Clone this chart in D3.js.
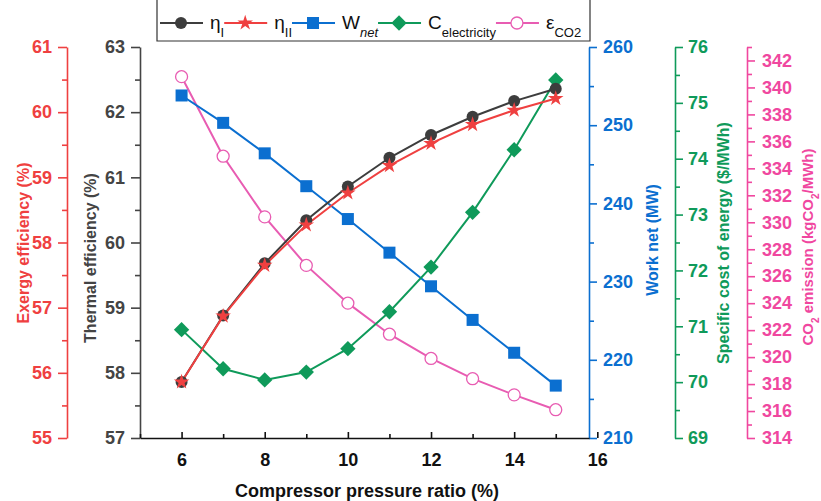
<!DOCTYPE html>
<html><head><meta charset="utf-8">
<script src="https://cdn.jsdelivr.net/npm/d3@7"></script>
<style>body{margin:0;background:#fff} text{font-family:"Liberation Sans",Arial,sans-serif}</style>
</head><body><svg id="c" width="821" height="501"></svg>
<script>
const pressureRatio=[6,7,8,9,10,11,12,13,14,15];
const thermalEff=[57.86,58.88,59.68,60.34,60.86,61.30,61.65,61.93,62.17,62.36];
const exergyEff=[55.86,56.87,57.65,58.27,58.76,59.18,59.52,59.81,60.03,60.21];
const workNet=[253.8,250.3,246.4,242.2,238.0,233.7,229.4,225.1,220.9,216.7];
const costElec=[70.94,70.24,70.04,70.18,70.60,71.26,72.06,73.04,74.16,75.41];
const co2Emission=[340.8,334.9,330.4,326.8,324.0,321.7,319.9,318.4,317.2,316.1];
const xTicks=[6,8,10,12,14,16];
const xMinor=[5,7,9,11,13,15];
const thermalTicks=[57,58,59,60,61,62,63];
const exergyTicks=[55,56,57,58,59,60,61];
const workTicks=[210,220,230,240,250,260];
const costTicks=[69,70,71,72,73,74,75,76];
const co2Ticks=[314,316,318,320,322,324,326,328,330,332,334,336,338,340,342];
const co2Minor=[315,317,319,321,323,325,327,329,331,333,335,337,339,341,343];

const C={black:"#3d3d3d",red:"#ef4040",blue:"#0b6fd0",green:"#0f9a5a",pink:"#f0479f",pinkLine:"#e85cb2"};
const svg=d3.select("#c");
const yTop=47,yBot=438,xl=140,xr=589;
const x=d3.scaleLinear([5,15.8],[xl,xr]);
const yT=d3.scaleLinear([57,63],[yBot,yTop]);
const yE=d3.scaleLinear([55,61],[yBot,yTop]);
const yW=d3.scaleLinear([210,260],[yBot,yTop]);
const yC=d3.scaleLinear([69,76],[yBot,yTop]);
const yP=d3.scaleLinear([314,343],[yBot,yTop]);

function mids(t,step){const r=[];for(let i=0;i<t.length-1;i++)r.push(t[i]+step);return r;}

function axis(gen,scale,major,minor,pos,color,pad,majLen,minLen){
  const g=svg.append("g").attr("transform",pos);
  g.call(gen(scale).tickValues(major).tickSize(majLen).tickSizeOuter(0).tickPadding(pad).tickFormat(d3.format("d")));
  g.append("g").call(gen(scale).tickValues(minor).tickSize(minLen).tickSizeOuter(0).tickFormat(""))
   .select(".domain").remove();
  g.selectAll("line,path").attr("stroke",color).attr("stroke-width",1.6);
  g.selectAll("text").attr("fill",color).style("font-size","18px").style("font-weight","bold").style("font-family","'Liberation Sans',Arial,sans-serif");
  return g;
}
axis(d3.axisLeft,yE,exergyTicks,mids(exergyTicks,0.5),`translate(67,0)`,C.red,6,9,5);
axis(d3.axisLeft,yT,thermalTicks,mids(thermalTicks,0.5),`translate(${xl},0)`,"#444",6,9,5);
axis(d3.axisRight,yW,workTicks,mids(workTicks,5),`translate(${xr},0)`,C.blue,6,8,5);
axis(d3.axisRight,yC,costTicks,mids(costTicks,0.5),`translate(675,0)`,C.green,5,8,5);
axis(d3.axisRight,yP,co2Ticks,co2Minor,`translate(747,0)`,C.pink,7,8,5);
const gx=svg.append("g").attr("transform",`translate(0,${yBot})`);
gx.call(d3.axisBottom(x).tickValues(xTicks).tickSize(-6).tickSizeOuter(0).tickPadding(15).tickFormat(d3.format("d")));
gx.append("g").call(d3.axisBottom(x).tickValues(xMinor).tickSize(-4).tickSizeOuter(0).tickFormat("")).select(".domain").remove();
gx.selectAll("line,path").attr("stroke","#111").attr("stroke-width",1.6);
gx.selectAll("text").attr("fill","#111").style("font-size","18px").style("font-weight","bold");

function vtitle(cx,cy,color,size,parts){
  const t=svg.append("text").attr("transform",`translate(${cx},${cy}) rotate(-90)`).attr("text-anchor","middle")
    .attr("fill",color).style("font-size",size+"px").style("font-weight","bold");
  parts.forEach(p=>{const s=t.append("tspan").text(p[0]);if(p[1])s.attr("baseline-shift","sub").style("font-size","10px");});
  return t;
}
vtitle(29,243,C.red,16,[["Exergy efficiency (%)"]]);
vtitle(96,258,"#444",16,[["Thermal efficiency (%)"]]);
vtitle(658,240,C.blue,16,[["Work net (MW)"]]);
vtitle(729,243,C.green,16,[["Specific cost of energy ($/MWh)"]]);
vtitle(813,247,C.pink,15,[["CO"],["2",1],[" emission (kgCO"],["2",1],["/MWh)"]]);
svg.append("text").attr("x",367).attr("y",497).attr("text-anchor","middle").attr("fill","#111")
  .style("font-size","18px").style("font-weight","bold").text("Compressor pressure ratio (%)");

const series=[
  {vals:co2Emission,y:yP,color:C.pinkLine,sym:"circleOpen"},
  {vals:workNet,y:yW,color:C.blue,sym:"square"},
  {vals:costElec,y:yC,color:C.green,sym:"diamond"},
  {vals:thermalEff,y:yT,color:C.black,sym:"circle"},
  {vals:exergyEff,y:yE,color:C.red,sym:"star"},
];
function drawMarker(g,sym,color){
  if(sym==="circle") g.append("circle").attr("r",6).attr("fill",color);
  else if(sym==="circleOpen") g.append("circle").attr("r",6).attr("fill","#fff").attr("stroke",color).attr("stroke-width",1.3);
  else if(sym==="square") g.append("rect").attr("x",-6).attr("y",-6).attr("width",12).attr("height",12).attr("fill",color);
  else if(sym==="diamond") g.append("path").attr("d",d3.symbol(d3.symbolDiamond2,150)()).attr("fill",color);
  else if(sym==="star") g.append("path").attr("d",d3.symbol(d3.symbolStar,75)()).attr("fill",color);
}
series.forEach(s=>{
  const line=d3.line().x((d,i)=>x(pressureRatio[i])).y(d=>s.y(d));
  svg.append("path").attr("d",line(s.vals)).attr("fill","none").attr("stroke",s.color).attr("stroke-width",2);
});
series.forEach(s=>{
  s.vals.forEach((v,i)=>{
    const g=svg.append("g").attr("transform",`translate(${x(pressureRatio[i])},${s.y(v)})`);
    drawMarker(g,s.sym,s.color);
  });
});

const legendItems=[
  {color:C.black,sym:"circle",label:[["η"],["I",1]]},
  {color:C.red,sym:"star",label:[["η"],["II",1]]},
  {color:C.blue,sym:"square",label:[["W"],["net",2]]},
  {color:C.green,sym:"diamond",label:[["C"],["electricity",1]]},
  {color:C.pinkLine,sym:"circleOpen",label:[["ε"],["CO2",1]]},
];
const lg=svg.append("g");
lg.append("path").attr("d","M157,-1V41H590V-1").attr("fill","none").attr("stroke","#333").attr("stroke-width",1.2);
let lx=160; const ly=23;
legendItems.forEach(it=>{
  lg.append("line").attr("x1",lx).attr("x2",lx+43).attr("y1",ly).attr("y2",ly).attr("stroke",it.color).attr("stroke-width",1.8);
  const m=lg.append("g").attr("transform",`translate(${lx+21},${ly})`);
  drawMarker(m,it.sym,it.color);
  const t=lg.append("text").attr("x",lx+50).attr("y",ly+6).attr("fill","#111").style("font-size","19px");
  it.label.forEach(p=>{const s=t.append("tspan").text(p[0]);
    if(p[1]){s.attr("baseline-shift","sub").style("font-size","13px");if(p[1]===2)s.style("font-style","italic");}});
  lx=lx+50+t.node().getComputedTextLength();
});
</script></body></html>
